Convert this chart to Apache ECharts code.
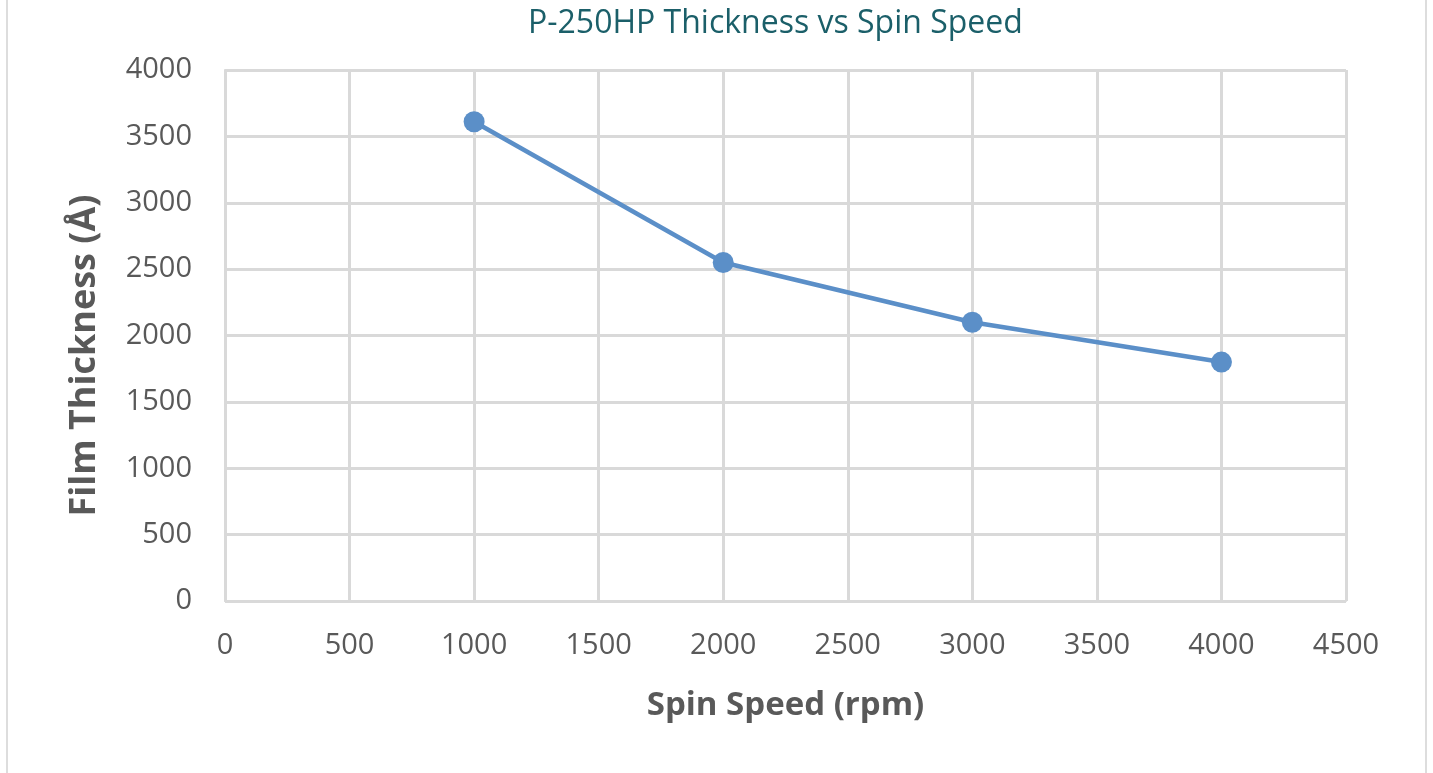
<!DOCTYPE html>
<html><head><meta charset="utf-8">
<script src="https://cdn.jsdelivr.net/npm/echarts@6/dist/echarts.min.js"></script>
<style>html,body{margin:0;padding:0;background:#fff}#c{width:1433px;height:773px}</style>
</head><body><div id="c"></div>
<script>
const titleText = 'P-250HP Thickness vs Spin Speed';
const xName = 'Spin Speed (rpm)';
const yName = 'Film Thickness (Å)';
const spinSpeed = [1000, 2000, 3000, 4000];
const thickness = [3610, 2550, 2100, 1800];

const chart = echarts.init(document.getElementById('c'));
chart.setOption({
  animation: false,
  title: { text: titleText, left: 523, top: 3,
    textStyle: { fontFamily: 'Open Sans', fontWeight: 'normal', fontSize: 32, color: '#1b5f69' } },
  grid: { left: 225, right: 87, top: 70, bottom: 172 },
  graphic: [
    { type: 'line', shape: { x1: 7, y1: 0, x2: 7, y2: 773 }, style: { stroke: '#dddddd', lineWidth: 2 } },
    { type: 'line', shape: { x1: 1426, y1: 0, x2: 1426, y2: 773 }, style: { stroke: '#dddddd', lineWidth: 2 } }
  ],
  xAxis: {
    type: 'value', min: 0, max: 4500, interval: 500,
    name: xName, nameLocation: 'middle', nameGap: 88,
    nameTextStyle: { fontFamily: 'Open Sans', fontWeight: 'bold', fontSize: 33, color: '#595959' },
    axisLine: { show: true, lineStyle: { color: '#d9d9d9', width: 2 } },
    axisTick: { show: false },
    axisLabel: { fontFamily: 'Open Sans', fontSize: 29, color: '#595959', margin: 30, formatter: v => String(v) },
    splitLine: { show: true, lineStyle: { color: '#d9d9d9', width: 3 } }
  },
  yAxis: {
    type: 'value', min: 0, max: 4000, interval: 500,
    name: yName, nameLocation: 'middle', nameGap: 122,
    nameTextStyle: { fontFamily: 'Open Sans', fontWeight: 'bold', fontSize: 36, color: '#595959', padding: [0, 40, 0, 0] },
    axisLine: { show: true, lineStyle: { color: '#d9d9d9', width: 2 } },
    axisTick: { show: false },
    axisLabel: { fontFamily: 'Open Sans', fontSize: 29, color: '#595959', margin: 33, formatter: v => String(v) },
    splitLine: { show: true, lineStyle: { color: '#d9d9d9', width: 3 } }
  },
  series: [{
    type: 'line',
    data: spinSpeed.map((x, i) => [x, thickness[i]]),
    symbol: 'circle', symbolSize: 21,
    lineStyle: { color: '#5b8fc8', width: 4.5 },
    itemStyle: { color: '#5b8fc8' }
  }]
});
</script></body></html>
